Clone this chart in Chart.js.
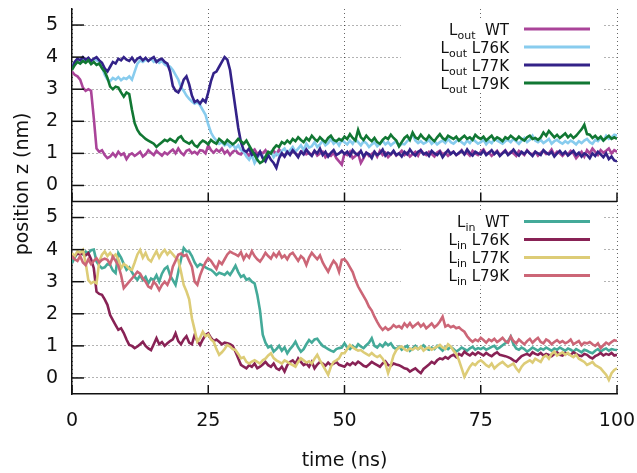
<!DOCTYPE html>
<html>
<head>
<meta charset="utf-8">
<script src="https://cdn.jsdelivr.net/npm/chart.js@4"></script>
<style>
  html, body { margin: 0; padding: 0; background: #fff; }
</style>
</head>
<body>
<canvas id="chartjs-0" width="637" height="473"></canvas>
<script>
"use strict";

// time axis (ns), sampled every 0.5 ns
var timeNs = [
  0, 0.5, 1, 1.5, 2, 2.5, 3, 3.5, 4, 4.5, 5, 5.5, 6, 6.5, 7, 7.5, 8, 8.5, 9, 9.5,
  10, 10.5, 11, 11.5, 12, 12.5, 13, 13.5, 14, 14.5, 15, 15.5, 16, 16.5, 17, 17.5, 18, 18.5, 19, 19.5,
  20, 20.5, 21, 21.5, 22, 22.5, 23, 23.5, 24, 24.5, 25, 25.5, 26, 26.5, 27, 27.5, 28, 28.5, 29, 29.5,
  30, 30.5, 31, 31.5, 32, 32.5, 33, 33.5, 34, 34.5, 35, 35.5, 36, 36.5, 37, 37.5, 38, 38.5, 39, 39.5,
  40, 40.5, 41, 41.5, 42, 42.5, 43, 43.5, 44, 44.5, 45, 45.5, 46, 46.5, 47, 47.5, 48, 48.5, 49, 49.5,
  50, 50.5, 51, 51.5, 52, 52.5, 53, 53.5, 54, 54.5, 55, 55.5, 56, 56.5, 57, 57.5, 58, 58.5, 59, 59.5,
  60, 60.5, 61, 61.5, 62, 62.5, 63, 63.5, 64, 64.5, 65, 65.5, 66, 66.5, 67, 67.5, 68, 68.5, 69, 69.5,
  70, 70.5, 71, 71.5, 72, 72.5, 73, 73.5, 74, 74.5, 75, 75.5, 76, 76.5, 77, 77.5, 78, 78.5, 79, 79.5,
  80, 80.5, 81, 81.5, 82, 82.5, 83, 83.5, 84, 84.5, 85, 85.5, 86, 86.5, 87, 87.5, 88, 88.5, 89, 89.5,
  90, 90.5, 91, 91.5, 92, 92.5, 93, 93.5, 94, 94.5, 95, 95.5, 96, 96.5, 97, 97.5, 98, 98.5, 99, 99.5,
  100
];

var xTicks = [0, 25, 50, 75, 100];
var yTicks = [0, 1, 2, 3, 4, 5];
var variantNames = ["WT", "L76K", "L77K", "L79K"];

// top panel: L_out position z (nm)
var outWT = [
  3.55, 3.45, 3.40, 3.30, 3.05, 2.95, 3.00, 2.95, 2.10, 1.15, 1.05, 1.10, 0.95, 0.85, 0.90, 1.00, 0.90, 1.05, 0.95, 1.00,
  0.82, 0.95, 1.00, 0.92, 0.98, 1.05, 0.90, 0.97, 1.10, 1.02, 0.95, 1.08, 1.00, 0.93, 1.03, 0.97, 1.05, 1.12, 1.00, 1.15,
  1.02, 0.95, 1.08, 1.12, 1.00, 1.05, 0.98, 1.10, 1.08, 1.00, 1.25, 1.10, 1.02, 1.12, 1.05, 1.15, 1.00, 1.08, 0.95, 1.05,
  1.10, 1.00, 0.97, 1.08, 1.02, 0.92, 1.05, 1.12, 0.98, 1.05, 1.00, 1.10, 0.95, 1.02, 1.08, 0.97, 1.12, 1.00, 0.90, 1.05,
  0.98, 1.08, 1.00, 0.92, 1.05, 1.10, 0.97, 1.02, 0.95, 1.08, 0.93, 1.00, 1.05, 0.88, 0.97, 0.92, 1.02, 0.85, 0.75, 0.65,
  1.00, 0.95, 1.05, 0.85, 0.92, 1.00, 0.70, 0.85, 1.02, 0.92, 0.98, 1.05, 0.90, 1.08, 0.95, 1.02, 0.88, 0.97, 1.05, 0.93,
  1.00, 1.08, 0.95, 1.02, 0.90, 0.98, 1.05, 0.93, 1.10, 1.00, 0.95, 1.05, 0.98, 0.90, 1.03, 1.08, 0.97, 1.02, 0.92, 1.00,
  1.05, 0.95, 1.00, 1.10, 0.97, 1.02, 0.93, 1.08, 1.00, 0.95, 1.05, 1.12, 0.98, 1.03, 0.92, 1.00, 1.08, 0.95, 1.02, 1.10,
  0.97, 1.05, 1.00, 0.92, 1.08, 1.02, 0.95, 1.10, 1.00, 0.97, 1.05, 0.93, 1.02, 1.08, 0.98, 1.00, 1.12, 0.95, 1.05, 1.00,
  0.92, 1.02, 0.97, 1.08, 1.00, 0.85, 0.95, 1.05, 0.90, 1.10, 1.00, 1.15, 1.05, 0.95, 1.10, 1.02, 1.08, 1.15, 1.00, 1.10,
  1.05
];
var outL76K = [
  3.70, 3.85, 3.95, 3.90, 3.95, 3.85, 3.92, 3.88, 3.95, 3.90, 3.85, 3.70, 3.45, 3.30, 3.25, 3.35, 3.30, 3.38, 3.28, 3.35,
  3.32, 3.40, 3.30, 3.55, 3.80, 3.90, 3.85, 3.92, 3.88, 3.95, 3.85, 3.90, 3.82, 3.88, 3.78, 3.72, 3.70, 3.60, 3.45, 3.30,
  3.05, 2.95, 2.80, 2.70, 2.62, 2.55, 2.60, 2.50, 2.35, 2.20, 1.90, 1.65, 1.50, 1.40, 1.30, 1.35, 1.25, 1.30, 1.20, 1.28,
  1.15, 1.25, 1.10, 1.05, 0.90, 0.80, 0.95, 0.70, 0.85, 1.00, 0.90, 0.80, 0.95, 1.05, 0.88, 1.00, 0.92, 1.08, 1.15, 1.00,
  1.10, 1.20, 1.05, 1.15, 1.25, 1.10, 1.30, 1.18, 1.22, 1.35, 1.20, 1.28, 1.40, 1.25, 1.32, 1.45, 1.30, 1.38, 1.25, 1.42,
  1.35, 1.28, 1.40, 1.30, 1.45, 1.35, 1.25, 1.38, 1.32, 1.20, 1.28, 1.35, 1.22, 1.30, 1.40, 1.28, 1.35, 1.25, 1.32, 1.38,
  1.22, 1.30, 1.28, 1.38, 1.45, 1.60, 1.40, 1.32, 1.38, 1.30, 1.35, 1.42, 1.30, 1.38, 1.28, 1.35, 1.40, 1.32, 1.45, 1.35,
  1.30, 1.38, 1.42, 1.35, 1.28, 1.40, 1.32, 1.45, 1.38, 1.30, 1.35, 1.42, 1.28, 1.38, 1.32, 1.45, 1.40, 1.35, 1.30, 1.38,
  1.42, 1.35, 1.45, 1.38, 1.30, 1.40, 1.48, 1.35, 1.42, 1.55, 1.40, 1.35, 1.42, 1.32, 1.38, 1.45, 1.30, 1.38, 1.42, 1.35,
  1.30, 1.38, 1.32, 1.40, 1.35, 1.28, 1.38, 1.32, 1.40, 1.45, 1.35, 1.30, 1.42, 1.38, 1.48, 1.40, 1.55, 1.45, 1.50, 1.58,
  1.55
];
var outL77K = [
  3.65, 3.85, 3.95, 3.90, 4.00, 3.92, 3.98, 3.88, 3.95, 4.00, 3.90, 3.82, 3.65, 3.55, 3.70, 3.85, 3.80, 3.95, 3.90, 4.00,
  3.92, 3.88, 3.98, 3.85, 3.95, 4.00, 3.90, 3.98, 3.88, 3.95, 4.00, 3.85, 3.92, 3.95, 3.85, 3.80, 3.55, 3.10, 2.95, 2.90,
  3.05, 3.30, 3.40, 3.15, 2.80, 2.60, 2.65, 2.55, 2.68, 2.60, 2.90, 3.25, 3.50, 3.55, 3.70, 3.85, 4.00, 3.92, 3.60, 3.00,
  2.40, 1.80, 1.35, 1.10, 1.05, 1.15, 0.95, 1.00, 0.90, 1.05, 0.85, 0.75, 0.95, 0.80, 0.70, 0.55, 0.85, 1.00, 0.90, 1.05,
  0.95, 1.10, 1.00, 0.88, 1.05, 0.97, 1.12, 1.00, 0.92, 1.08, 1.00, 1.15, 0.95, 1.05, 0.90, 1.02, 1.10, 0.95, 1.00, 1.08,
  0.98, 1.05, 0.92, 1.10, 1.00, 0.95, 1.08, 0.90, 1.02, 0.97, 0.85, 1.05, 0.95, 1.00, 1.12, 0.93, 1.02, 0.97, 1.08, 0.95,
  1.00, 0.90, 1.05, 0.97, 1.12, 1.00, 0.93, 1.05, 1.10, 0.97, 1.02, 0.92, 1.08, 1.00, 0.95, 1.05, 0.88, 1.00, 1.10, 0.98,
  1.05, 0.95, 1.02, 1.08, 0.97, 1.12, 1.00, 0.93, 1.05, 1.00, 0.97, 1.08, 0.95, 1.02, 1.10, 0.98, 1.05, 0.92, 1.00, 1.08,
  0.95, 1.02, 1.12, 1.00, 0.93, 1.05, 0.98, 1.08, 1.00, 0.92, 1.05, 1.00, 0.95, 1.10, 1.02, 0.97, 1.05, 0.90, 1.00, 1.08,
  0.97, 1.05, 0.93, 1.00, 1.08, 0.95, 1.02, 0.90, 1.00, 0.95, 0.85, 1.00, 0.92, 1.05, 0.97, 0.88, 1.00, 0.82, 0.90, 0.78,
  0.75
];
var outL79K = [
  3.60, 3.75, 3.85, 3.80, 3.88, 3.82, 3.90, 3.78, 3.85, 3.76, 3.80, 3.65, 3.55, 3.35, 3.08, 3.00, 3.08, 3.05, 2.90, 2.77,
  2.90, 2.85, 2.36, 1.94, 1.73, 1.60, 1.53, 1.45, 1.40, 1.35, 1.30, 1.20, 1.28, 1.35, 1.42, 1.38, 1.45, 1.40, 1.35, 1.48,
  1.53, 1.40, 1.35, 1.30, 1.38, 1.25, 1.20, 1.32, 1.40, 1.35, 1.28, 1.42, 1.35, 1.30, 1.45, 1.38, 1.30, 1.42, 1.35, 1.28,
  1.35, 1.45, 1.38, 1.30, 1.40, 1.25, 1.10, 0.95, 0.80, 0.70, 0.75, 0.90, 1.05, 1.00, 1.15, 1.25, 1.20, 1.35, 1.30, 1.40,
  1.32, 1.45, 1.38, 1.50, 1.42, 1.35, 1.48, 1.40, 1.55, 1.45, 1.38, 1.50, 1.42, 1.35, 1.48, 1.55, 1.42, 1.38, 1.45, 1.40,
  1.52, 1.45, 1.60, 1.48, 1.40, 1.73, 1.50, 1.42, 1.55, 1.45, 1.38, 1.48, 1.35, 1.30, 1.42, 1.50, 1.45, 1.58, 1.48, 1.40,
  1.22, 1.35, 1.48, 1.55, 1.42, 1.65, 1.50, 1.45, 1.58, 1.48, 1.42, 1.55, 1.45, 1.38, 1.50, 1.60, 1.48, 1.42, 1.55, 1.50,
  1.45, 1.52, 1.40, 1.48, 1.55, 1.45, 1.50, 1.42, 1.58, 1.50, 1.45, 1.52, 1.40, 1.48, 1.55, 1.42, 1.50, 1.45, 1.38, 1.50,
  1.45, 1.55, 1.48, 1.42, 1.52, 1.45, 1.40, 1.50, 1.55, 1.45, 1.48, 1.42, 1.50, 1.65, 1.55, 1.70, 1.60, 1.50, 1.58, 1.48,
  1.55, 1.62, 1.50, 1.58, 1.48, 1.55, 1.65, 1.75, 1.89, 1.60, 1.58, 1.48, 1.55, 1.45, 1.52, 1.40, 1.48, 1.55, 1.45, 1.50,
  1.45
];

// bottom panel: L_in position z (nm)
var inWT = [
  3.58, 3.75, 3.89, 3.92, 3.85, 3.94, 3.90, 3.98, 4.00, 3.63, 3.50, 3.42, 3.45, 3.55, 3.52, 3.35, 3.27, 3.89, 3.75, 3.55,
  3.37, 3.45, 3.30, 3.15, 3.06, 3.20, 3.05, 3.15, 2.95, 3.10, 3.05, 3.20, 3.00, 3.25, 3.40, 3.47, 3.20, 3.05, 2.90, 3.30,
  3.70, 4.05, 3.95, 3.94, 3.80, 3.60, 3.47, 3.55, 3.50, 3.45, 3.40, 3.37, 3.30, 3.21, 3.28, 3.25, 3.21, 3.30, 3.21, 3.35,
  3.50, 3.30, 3.15, 3.20, 3.06, 3.10, 3.00, 2.95, 2.59, 2.10, 1.35, 1.10, 0.95, 1.00, 0.82, 0.90, 1.00, 0.85, 0.95, 0.77,
  0.90, 1.00, 1.13, 0.95, 0.82, 0.90, 1.05, 1.18, 1.10, 1.20, 1.22, 1.10, 1.00, 0.95, 0.90, 0.85, 0.82, 0.90, 0.93, 0.95,
  1.08, 0.95, 0.90, 1.00, 0.92, 1.05, 0.98, 0.93, 1.02, 1.10, 1.24, 1.00, 0.95, 1.05, 0.98, 1.10, 1.02, 1.08, 0.95, 0.90,
  0.98, 0.88, 0.95, 1.00, 0.85, 0.92, 1.00, 0.90, 0.95, 1.02, 0.92, 0.88, 0.95, 0.90, 1.00, 0.93, 0.85, 0.95, 0.90, 0.97,
  0.90, 0.82, 0.88, 0.95, 0.90, 0.85, 0.92, 0.97, 0.88, 0.93, 0.90, 0.95, 0.88, 0.92, 0.97, 1.00, 0.90, 0.95, 1.02, 1.08,
  1.15, 1.29, 1.05, 0.92, 0.88, 0.95, 0.90, 0.82, 0.88, 0.95, 0.90, 0.85, 0.92, 0.88, 0.95, 0.90, 0.85, 0.92, 0.88, 0.95,
  0.90, 0.85, 0.92, 0.88, 0.82, 0.90, 0.85, 0.80, 0.88, 0.85, 0.80, 0.77, 0.85, 0.90, 0.82, 0.88, 0.92, 0.85, 0.90, 0.88,
  0.87
];
var inL76K = [
  3.84, 3.80, 3.88, 3.85, 3.89, 3.82, 3.89, 3.70, 3.42, 2.69, 2.62, 2.59, 2.45, 2.28, 1.96, 1.80, 1.65, 1.50, 1.55, 1.40,
  1.20, 1.03, 1.00, 0.93, 0.98, 1.05, 1.13, 1.00, 0.92, 0.87, 1.05, 1.24, 1.05, 1.12, 1.00, 1.08, 1.15, 1.20, 1.39, 1.15,
  1.05, 1.20, 1.30, 1.10, 1.05, 1.34, 1.15, 1.03, 1.20, 1.34, 1.39, 1.25, 1.15, 1.20, 1.13, 1.05, 1.10, 1.08, 1.05, 1.00,
  0.82, 0.61, 0.41, 0.35, 0.30, 0.40, 0.35, 0.45, 0.30, 0.35, 0.42, 0.50, 0.40, 0.35, 0.45, 0.30, 0.25, 0.35, 0.20, 0.40,
  0.50, 0.55, 0.45, 0.61, 0.50, 0.40, 0.45, 0.35, 0.50, 0.30, 0.42, 0.50, 0.45, 0.38, 0.48, 0.40, 0.45, 0.50, 0.41, 0.38,
  0.35, 0.45, 0.40, 0.48, 0.42, 0.51, 0.45, 0.38, 0.35, 0.42, 0.50, 0.45, 0.40, 0.35, 0.45, 0.52, 0.40, 0.38, 0.45, 0.42,
  0.40, 0.35, 0.30, 0.28, 0.20, 0.25, 0.30, 0.22, 0.15, 0.28, 0.35, 0.42, 0.50, 0.45, 0.55, 0.61, 0.58, 0.65, 0.60, 0.68,
  0.72, 0.65, 0.75, 0.70, 0.82, 0.75, 0.70, 0.78, 0.72, 0.80, 0.75, 0.70, 0.78, 0.72, 0.68, 0.75, 0.80, 0.72, 0.70, 0.68,
  0.65, 0.61, 0.55, 0.51, 0.60, 0.68, 0.72, 0.75, 0.70, 0.80, 0.75, 0.72, 0.78, 0.70, 0.75, 0.72, 0.68, 0.75, 0.80, 0.72,
  0.70, 0.78, 0.75, 0.72, 0.80, 0.75, 0.70, 0.68, 0.75, 0.72, 0.65, 0.61, 0.68, 0.72, 0.78, 0.70, 0.75, 0.72, 0.78, 0.70,
  0.72
];
var inL77K = [
  3.89, 3.80, 3.95, 3.90, 3.99, 3.60, 3.05, 2.95, 3.00, 2.95, 3.63, 3.84, 3.94, 3.80, 3.90, 3.78, 3.85, 3.70, 3.42, 3.55,
  3.50, 3.40, 3.37, 3.60, 3.85, 3.99, 3.75, 3.90, 3.70, 3.63, 3.80, 3.95, 3.75, 3.90, 3.99, 3.85, 3.95, 3.85, 3.75, 3.68,
  3.31, 2.90, 2.70, 2.45, 1.86, 1.50, 1.13, 1.25, 1.44, 1.30, 1.35, 1.20, 1.13, 0.90, 0.72, 0.80, 0.90, 1.03, 0.98, 0.90,
  0.87, 0.75, 0.61, 0.65, 0.50, 0.45, 0.51, 0.55, 0.50, 0.45, 0.55, 0.60, 0.70, 0.77, 0.62, 0.55, 0.50, 0.45, 0.55, 0.50,
  0.45, 0.40, 0.35, 0.50, 0.61, 0.55, 0.48, 0.52, 0.45, 0.60, 0.72, 0.55, 0.40, 0.25, 0.10, 0.35, 0.50, 0.55, 0.61, 0.77,
  0.77, 0.90, 1.03, 0.95, 0.90, 0.85, 0.87, 0.80, 0.75, 0.70, 0.78, 0.70, 0.65, 0.70, 0.60, 0.45, 0.15, 0.40, 0.70, 0.87,
  0.95, 0.98, 0.90, 0.85, 0.92, 0.88, 0.95, 0.90, 0.98, 0.85, 0.92, 0.95, 0.88, 0.93, 0.98, 1.03, 0.95, 0.90, 1.05, 0.98,
  0.85, 0.75, 0.55, 0.30, 0.04, 0.20, 0.35, 0.45, 0.40, 0.50, 0.55, 0.48, 0.40, 0.35, 0.45, 0.30, 0.38, 0.45, 0.50, 0.42,
  0.35, 0.40, 0.45, 0.30, 0.20, 0.35, 0.45, 0.50, 0.55, 0.48, 0.60, 0.55, 0.50, 0.65, 0.70, 0.60, 0.75, 0.82, 0.70, 0.75,
  0.80, 0.72, 0.78, 0.70, 0.65, 0.72, 0.60, 0.55, 0.50, 0.41, 0.45, 0.50, 0.40, 0.35, 0.30, 0.20, 0.10, -0.06, 0.15, 0.25,
  0.30
];
var inL79K = [
  3.78, 3.70, 3.65, 3.80, 3.60, 3.52, 3.70, 3.55, 3.65, 3.73, 3.60, 3.68, 3.72, 3.68, 3.55, 3.78, 3.65, 3.50, 3.21, 2.80,
  2.90, 3.00, 3.10, 3.20, 3.31, 3.25, 3.10, 3.00, 2.85, 2.80, 3.00, 2.90, 2.74, 2.90, 3.00, 2.90, 3.10, 3.47, 3.65, 3.84,
  3.88, 3.80, 3.84, 3.65, 3.47, 3.00, 2.90, 3.20, 3.42, 3.60, 3.73, 3.65, 3.52, 3.40, 3.63, 3.55, 3.70, 3.85, 3.94, 3.89,
  3.85, 3.80, 3.92, 3.70, 3.85, 3.75, 3.95, 3.80, 3.70, 3.63, 3.75, 3.90, 3.80, 3.72, 3.88, 3.78, 3.92, 3.75, 3.82, 3.70,
  3.85, 3.90, 3.78, 3.65, 3.80, 3.72, 3.52, 3.75, 3.90, 3.80, 3.70, 3.82, 3.60, 3.45, 3.31, 3.50, 3.65, 3.55, 3.31, 3.68,
  3.70, 3.60, 3.45, 3.30, 3.05, 2.85, 2.70, 2.55, 2.40, 2.22, 2.10, 1.91, 1.75, 1.60, 1.50, 1.58, 1.50, 1.55, 1.65, 1.58,
  1.62, 1.55, 1.70, 1.60, 1.71, 1.58, 1.65, 1.72, 1.60, 1.68, 1.55, 1.62, 1.70, 1.58, 1.65, 1.76, 1.91, 1.60, 1.65, 1.58,
  1.62, 1.55, 1.58, 1.50, 1.44, 1.30, 1.20, 1.13, 1.20, 1.15, 1.25, 1.18, 1.10, 1.20, 1.15, 1.22, 1.12, 1.18, 1.25, 1.15,
  1.10, 1.29, 1.15, 1.08, 1.20, 1.12, 1.05, 1.15, 1.22, 1.10, 1.18, 1.25, 1.12, 1.08, 1.20, 1.15, 1.05, 1.12, 1.18, 1.10,
  1.15, 1.08, 1.12, 1.20, 1.05, 1.10, 1.15, 1.02, 1.10, 1.08, 1.12, 1.05, 1.00, 1.08, 0.93, 1.02, 1.10, 1.05, 1.12, 1.18,
  1.15
];

var outSeries = [outWT, outL76K, outL77K, outL79K];
var inSeries = [inWT, inL76K, inL77K, inL79K];
var outColors = ["#AA4499", "#88CCEE", "#332288", "#117733"];
var inColors = ["#44AA99", "#882255", "#DDCC77", "#CC6677"];

var FONT = "DejaVu Sans";
var textColor = "#111111";
var axisColor = "#111111";
var gridColor = "rgba(0,0,0,0.6)";

function toPoints(values) {
  return values.map(function (v, k) { return { x: timeNs[k], y: v }; });
}

var datasets = [];
outSeries.forEach(function (s, i) {
  datasets.push({
    label: "Lout " + variantNames[i], sub: "out", name: variantNames[i],
    data: toPoints(s), yAxisID: "yTop", borderColor: outColors[i],
    borderWidth: 2.6, pointRadius: 0, tension: 0, fill: false, order: 4 - i
  });
});
inSeries.forEach(function (s, i) {
  datasets.push({
    label: "Lin " + variantNames[i], sub: "in", name: variantNames[i],
    data: toPoints(s), yAxisID: "yBot", borderColor: inColors[i],
    borderWidth: 2.6, pointRadius: 0, tension: 0, fill: false, order: 4 - i
  });
});

function setYTicks(scale) {
  scale.ticks = yTicks.map(function (v) { return { value: v }; });
}

function yScale(weight) {
  return {
    type: "linear", position: "left", stack: "panels", weight: weight,
    min: -0.5, max: 5.5,
    afterBuildTicks: setYTicks,
    afterFit: function (s) {
      s.width = 72;
      s.paddingTop = 0;
      s.paddingBottom = 0;
    },
    grid: { color: gridColor, lineWidth: 1, drawTicks: false },
    border: { display: true, color: axisColor, width: 1.5, dash: [1, 3] },
    ticks: { autoSkip: false, padding: 14, color: textColor, font: { family: FONT, size: 19 } }
  };
}

function line(ctx, x1, y1, x2, y2) {
  ctx.beginPath();
  ctx.moveTo(x1, y1);
  ctx.lineTo(x2, y2);
  ctx.stroke();
}

// legend boxes, inward ticks, middle axis and axis titles
var panelDeco = {
  id: "panelDeco",
  beforeDatasetsDraw: function (chart) {
    var ctx = chart.ctx, a = chart.chartArea;
    ctx.save();
    ctx.fillStyle = "#ffffff";
    [chart.scales.yTop, chart.scales.yBot].forEach(function (s) {
      ctx.fillRect(a.right - 216, s.top + 11, 201, 73);
    });
    ctx.restore();
  },
  afterDatasetsDraw: function (chart) {
    var ctx = chart.ctx, a = chart.chartArea;
    var xs = chart.scales.x, yT = chart.scales.yTop, yB = chart.scales.yBot;
    var mid = yT.bottom;
    ctx.save();
    ctx.strokeStyle = axisColor;
    ctx.lineWidth = 1.5;
    line(ctx, a.left, mid, a.right, mid);
    [yT, yB].forEach(function (s) {
      yTicks.forEach(function (v) {
        var py = s.getPixelForValue(v);
        line(ctx, a.left, py, a.left + 12, py);
      });
    });
    xTicks.forEach(function (v) {
      var px = xs.getPixelForValue(v);
      line(ctx, px, a.bottom, px, a.bottom - 9);
      line(ctx, px, mid, px, mid - 9);
    });

    // legends
    var metas = chart.data.datasets;
    [yT, yB].forEach(function (s, p) {
      for (var i = 0; i < 4; i++) {
        var ds = metas[p * 4 + i];
        var yc = s.top + 20 + 18 * i;
        var name = (ds.name.length < 3 ? "  " : " ") + ds.name;
        ctx.font = "15px '" + FONT + "'";
        var wL = ctx.measureText("L").width;
        var wMain = ctx.measureText(name).width;
        ctx.font = "11px '" + FONT + "'";
        var wSub = ctx.measureText(ds.sub).width;
        var x0 = a.right - 108 - wMain - wSub - wL;
        ctx.fillStyle = textColor;
        ctx.textAlign = "left";
        ctx.textBaseline = "alphabetic";
        ctx.font = "15px '" + FONT + "'";
        ctx.fillText("L", x0, yc + 5.5);
        ctx.font = "11px '" + FONT + "'";
        ctx.fillText(ds.sub, x0 + wL, yc + 9.5);
        ctx.font = "15px '" + FONT + "'";
        ctx.fillText(name, x0 + wL + wSub, yc + 5.5);
        ctx.strokeStyle = ds.borderColor;
        ctx.lineWidth = 3;
        line(ctx, a.right - 93, yc, a.right - 27, yc);
      }
    });

    // axis titles
    ctx.fillStyle = textColor;
    ctx.font = "19px '" + FONT + "'";
    ctx.textAlign = "center";
    ctx.textBaseline = "middle";
    ctx.fillText("time (ns)", (a.left + a.right) / 2, 461);
    ctx.translate(23, 184);
    ctx.rotate(-Math.PI / 2);
    ctx.fillText("position z (nm)", 0, 0);
    ctx.restore();
  }
};

var ctx0 = document.getElementById("chartjs-0");
var myChart = new Chart(ctx0, {
  type: "line",
  data: { datasets: datasets },
  options: {
    responsive: false,
    animation: false,
    layout: { padding: { top: 9, right: 20, left: 0, bottom: 0 } },
    plugins: { legend: { display: false }, tooltip: { enabled: false } },
    scales: {
      x: {
        type: "linear", min: 0, max: 100,
        afterBuildTicks: function (s) { s.ticks = xTicks.map(function (v) { return { value: v }; }); },
        afterFit: function (s) {
          s.height = 79;
          s.paddingLeft = 0;
          s.paddingRight = 0;
        },
        grid: { color: gridColor, lineWidth: 1, drawTicks: false },
        border: { display: true, color: axisColor, width: 1.5, dash: [1, 3] },
        ticks: { autoSkip: false, padding: 16, color: textColor, maxRotation: 0, font: { family: FONT, size: 19 } }
      },
      yBot: yScale(0),
      yTop: yScale(1)
    }
  },
  plugins: [panelDeco]
});
</script>
</body>
</html>
